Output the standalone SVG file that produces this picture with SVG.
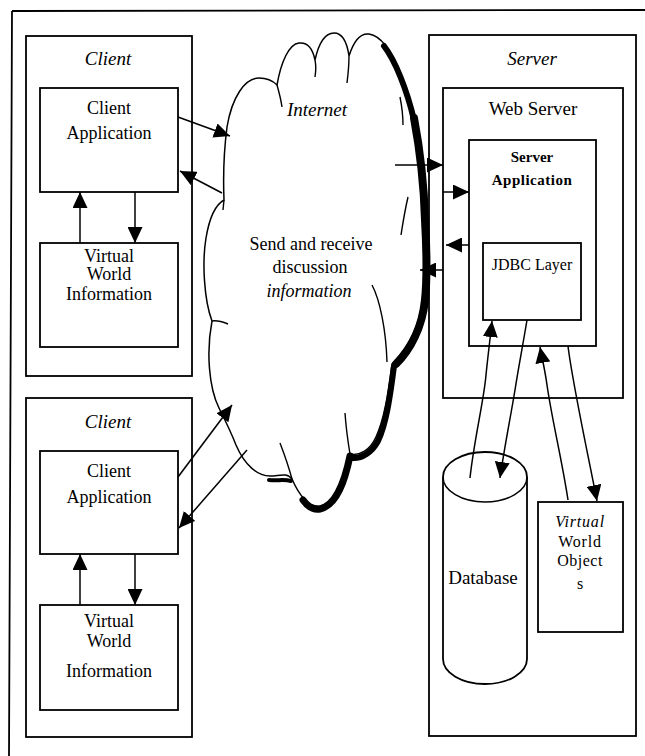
<svg xmlns="http://www.w3.org/2000/svg" width="645" height="756" viewBox="0 0 645 756">
<style>
.box{fill:#fff;stroke:#000;stroke-width:1.8}
.frame{fill:none;stroke:#000;stroke-width:1.8}
.ln{fill:none;stroke:#000;stroke-width:1.5}
.hook{fill:none;stroke:#000;stroke-width:1.4}
.sh{fill:none;stroke:#000;stroke-linecap:round;stroke-linejoin:round}
text{font-family:"Liberation Serif","Times New Roman","DejaVu Serif",serif;fill:#000;text-anchor:middle}
.s18{font-size:18px}
.s19{font-size:19px}
.s15{font-size:15px}
.s16{font-size:16px}
.it{font-style:italic}
.b{font-weight:bold}
</style>
<defs>
<marker id="ah" viewBox="0 0 16 15" markerUnits="userSpaceOnUse" markerWidth="16" markerHeight="15" refX="16" refY="7.5" orient="auto">
<path d="M0,0 L16,7.5 L0,15 Z" fill="#000"/>
</marker>
</defs>
<rect x="0" y="0" width="645" height="756" fill="#fff"/>
<path class="frame" d="M12,11 L645,10 M12,11 L9,756"/>

<g id="client1">
<rect class="box" x="26" y="36" width="166" height="340"/>
<text class="s19 it" x="108" y="65">Client</text>
</g>
<g id="client1-app">
<rect class="box" x="40" y="88" width="138" height="104"/>
<text class="s18" x="109" y="114">Client</text>
<text class="s18" x="109" y="139">Application</text>
</g>
<g id="client1-vwi">
<rect class="box" x="40" y="243" width="138" height="104"/>
<text class="s18" x="109" y="262">Virtual</text>
<text class="s18" x="109" y="280">World</text>
<text class="s18" x="109" y="300">Information</text>
</g>

<g id="client2">
<rect class="box" x="26" y="398" width="166" height="339"/>
<text class="s19 it" x="108" y="428">Client</text>
</g>
<g id="client2-app">
<rect class="box" x="40" y="451" width="138" height="103"/>
<text class="s18" x="109" y="477">Client</text>
<text class="s18" x="109" y="503">Application</text>
</g>
<g id="client2-vwi">
<rect class="box" x="40" y="605" width="138" height="105"/>
<text class="s18" x="109" y="627">Virtual</text>
<text class="s18" x="109" y="647">World</text>
<text class="s18" x="109" y="677">Information</text>
</g>

<g id="server">
<rect class="box" x="429" y="35" width="207" height="701"/>
<text class="s19 it" x="532" y="65">Server</text>
</g>
<g id="web-server">
<rect class="box" x="443" y="88" width="180" height="310"/>
<text class="s19" x="533" y="115">Web Server</text>
</g>
<g id="server-app">
<rect class="box" x="469" y="140" width="127" height="206"/>
<text class="s15 b" x="532" y="162">Server</text>
<text class="s15 b" x="532" y="185" letter-spacing="0.5">Application</text>
</g>
<g id="jdbc">
<rect class="box" x="483" y="243" width="98" height="77"/>
<text class="s16" x="532" y="270">JDBC Layer</text>
</g>
<g id="database">
<path class="box" d="M443,477 L443,659 A42,25 0 0 0 527,659 L527,477 A42,25 0 0 0 443,477 Z"/>
<path class="ln" d="M443,477 A42,25 0 0 0 527,477"/>
<text class="s19" x="483" y="584">Database</text>
</g>
<g id="vw-objects">
<rect class="box" x="538" y="502" width="85" height="130"/>
<text class="s16 it" x="580" y="527" letter-spacing="0.8">Virtual</text>
<text class="s16" x="580" y="547" letter-spacing="0.8">World</text>
<text class="s16" x="580" y="566" letter-spacing="0.5">Object</text>
<text class="s16" x="580" y="589">s</text>
</g>

<g id="internet">
<path fill="#fff" stroke="#000" stroke-width="1.5" d="M224,200 C223,175 224,150 227,127 C232,97 245,78 259,78 C267,78 273,81 277,85 C281,62 289,44 299,43 C308,42 313,50 315,60 C319,42 326,33 334,33 C342,33 347,42 349,56 C354,40 361,33 369,34 C382,36 392,52 400,75 C412,110 420,150 422,190 C425,230 426,275 422,305 C418,330 405,352 392,364 C388,395 384,420 376,437 C370,450 360,456 350,454 C345,478 336,502 321,506 C309,508 299,495 292,479 C287,472 279,476 270,476 C258,476 245,466 236,445 C231,432 225,420 219,408 C209,388 206,352 212,321 C204,300 202,262 206,238 C209,220 215,205 224,200 Z"/>
<path class="hook" d="M277,85 C279,92 281,100 282,107 M315,60 C316,65 316,71 315,77 M349,56 C349,66 348,75 347,83 M400,97 C402,107 403,115 403,125 M408,197 C405,210 403,222 401,235 M372,285 C380,300 386,330 387,362 M345,413 C346,428 348,442 350,454 M280,443 C285,456 289,468 292,479 M212,321 C218,320 223,322 228,324 M224,200 L223,210"/>
<path class="sh" stroke-width="6" d="M384,46 C395,60 407,90 414,120"/>
<path class="sh" stroke-width="8" d="M414,118 C420,150 424,185 425,220 C427,255 427,280 425,300 C422,328 410,350 396,364"/>
<path class="sh" stroke-width="6" d="M394,366 C390,398 386,424 378,441 C372,452 362,459 352,458"/>
<path class="sh" stroke-width="7" d="M350,456 C345,480 337,505 320,509 C314,510 308,507 303,500"/>
<path class="sh" stroke-width="4" d="M291,481 C284,479 277,481 269,480"/>
<text class="s19 it" x="317" y="116">Internet</text>
<text class="s18" x="311" y="250">Send and receive</text>
<text class="s18" x="310" y="273">discussion</text>
<text class="s18 it" x="309" y="297">information</text>
</g>

<g id="connectors">
<path class="ln" marker-end="url(#ah)" d="M80,243 L80,192"/>
<path class="ln" marker-end="url(#ah)" d="M135,192 L135,243"/>
<path class="ln" marker-end="url(#ah)" d="M80,605 L80,554"/>
<path class="ln" marker-end="url(#ah)" d="M135,554 L135,605"/>
<path class="ln" marker-end="url(#ah)" d="M178,117 L230,136"/>
<path class="ln" marker-end="url(#ah)" d="M222,193 L180,171"/>
<path class="ln" marker-end="url(#ah)" d="M178,477 L232,405"/>
<path class="ln" marker-end="url(#ah)" d="M247,450 L179,528"/>
<path class="ln" marker-end="url(#ah)" d="M395,165 L443,165"/>
<path class="ln" marker-end="url(#ah)" d="M443,192 L469,192"/>
<path class="ln" marker-end="url(#ah)" d="M469,245 L446,245"/>
<path class="ln" marker-end="url(#ah)" d="M443,270 L420,270"/>
<path class="ln" marker-end="url(#ah)" d="M470,478 C474,440 484,400 486,375 C488,355 490,340 492,321"/>
<path class="ln" marker-end="url(#ah)" d="M527,320 C522,350 518,370 515,390 C510,420 504,450 500,478"/>
<path class="ln" marker-end="url(#ah)" d="M568,500 C562,460 552,420 547,385 C545,370 542,358 540,347"/>
<path class="ln" marker-end="url(#ah)" d="M568,346 C572,380 585,440 597,501"/>
</g>
</svg>
